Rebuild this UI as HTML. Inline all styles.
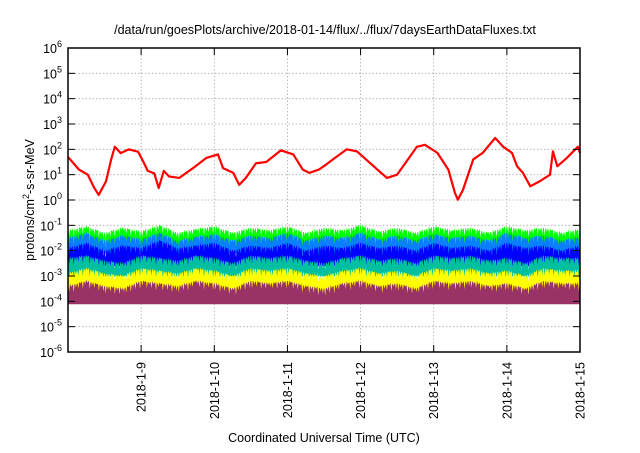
<!DOCTYPE html>
<html><head><meta charset="utf-8"><style>
body{margin:0;background:#fff;width:640px;height:448px;overflow:hidden;font-family:"Liberation Sans",sans-serif}
svg text{font-family:"Liberation Sans",sans-serif;fill:#000}
</style></head><body>
<svg id="chart" width="640" height="448" viewBox="0 0 640 448" xmlns="http://www.w3.org/2000/svg">
<text x="325" y="34" font-size="12.5" text-anchor="middle">/data/run/goesPlots/archive/2018-01-14/flux/../flux/7daysEarthDataFluxes.txt</text>
<text x="324" y="442" font-size="12.5" text-anchor="middle">Coordinated Universal Time (UTC)</text>
<text transform="translate(34,200) rotate(-90)" font-size="12.5" text-anchor="middle">protons/cm<tspan dy="-5" font-size="9">2</tspan><tspan dy="5">-s-sr-MeV</tspan></text>
<g id="grid"></g><g id="series"></g><g id="axes"></g>
</svg>
<script>
const dayLabels=["2018-1-9","2018-1-10","2018-1-11","2018-1-12","2018-1-13","2018-1-14","2018-1-15"];
const yExps=[6,5,4,3,2,1,0,-1,-2,-3,-4,-5,-6];
const redT=[0,.15,.27,.36,.42,.52,.59,.64,.72,.83,.96,1.04,1.09,1.18,1.24,1.31,1.38,1.52,1.71,1.89,2.05,2.12,2.26,2.34,2.43,2.57,2.71,2.91,3.08,3.21,3.30,3.43,3.53,3.62,3.81,3.95,4.13,4.36,4.50,4.63,4.77,4.88,5.05,5.20,5.29,5.33,5.40,5.54,5.67,5.84,5.95,6.07,6.14,6.22,6.32,6.45,6.59,6.63,6.69,6.82,6.97,7.0];
const redV=[1.7,1.2,1.0,0.47,0.2,0.74,1.6,2.1,1.85,2.0,1.9,1.45,1.15,1.05,0.47,1.15,0.93,0.87,1.26,1.66,1.8,1.26,1.07,0.6,0.87,1.45,1.5,1.96,1.8,1.2,1.07,1.2,1.4,1.6,2.0,1.92,1.46,0.87,1.0,1.53,2.1,2.18,1.86,1.2,0.28,0.01,0.4,1.6,1.86,2.45,2.1,1.86,1.33,1.07,0.54,0.74,1.0,1.92,1.33,1.66,2.1,1.86];
const greenUp=[-1.2,-1.05,-1.3,-1.1,-1.25,-1.0,-1.3,-1.15,-1.05,-1.3,-1.1,-1.2,-1.05,-1.3,-1.1,-1.2,-1.0,-1.25,-1.1,-1.3,-1.05,-1.2,-1.1,-1.3,-1.05,-1.2,-1.1,-1.3,-1.15];
const lblueUp=[-1.5,-1.3,-1.6,-1.4,-1.55,-1.3,-1.6,-1.45,-1.35,-1.6,-1.4,-1.5,-1.3,-1.6,-1.4,-1.5,-1.3,-1.55,-1.4,-1.6,-1.35,-1.5,-1.4,-1.6,-1.3,-1.5,-1.4,-1.6,-1.45];
const dblueUp=[-1.9,-1.7,-2.0,-1.8,-1.9,-1.6,-1.9,-1.8,-1.7,-2.0,-1.8,-1.9,-1.7,-2.0,-1.8,-1.9,-1.7,-1.9,-1.8,-2.0,-1.7,-1.9,-1.8,-2.0,-1.7,-1.9,-1.8,-2.0,-1.8];
const tealUp=[-2.3,-2.2,-2.4,-2.5,-2.2,-2.3,-2.4,-2.2,-2.3,-2.5,-2.2,-2.3,-2.2,-2.4,-2.5,-2.3,-2.2,-2.4,-2.3,-2.5,-2.2,-2.3,-2.2,-2.4,-2.3,-2.5,-2.2,-2.3,-2.3];
const yellowUp=[-2.9,-2.7,-2.9,-3.0,-2.7,-2.8,-2.9,-2.7,-2.8,-3.0,-2.7,-2.8,-2.7,-2.9,-3.0,-2.8,-2.7,-2.9,-2.8,-3.0,-2.7,-2.8,-2.7,-2.9,-2.8,-3.0,-2.7,-2.8,-2.8];
const maroonUp=[-3.4,-3.2,-3.4,-3.5,-3.2,-3.3,-3.4,-3.2,-3.3,-3.5,-3.2,-3.3,-3.2,-3.4,-3.5,-3.3,-3.2,-3.4,-3.3,-3.5,-3.2,-3.3,-3.2,-3.4,-3.3,-3.5,-3.2,-3.3,-3.3];
const bandLows=[-2.0,-2.1,-2.6,-3.0,-3.6,-4.1];
const bandNames=["band-green","band-lightblue","band-darkblue","band-teal","band-yellow","band-maroon"];
const bandColors=["#00ff00","#0a7fff","#0000ff","#00c0a0","#ffff00","#993366"];
const NS="http://www.w3.org/2000/svg";
const L=68,R=580,T=48,B=352;
function xs(d){return L+(R-L)*d/7;}
function ys(v){return B-(v+6)*(B-T)/12;}
function mk(tag,attrs,parent){const e=document.createElementNS(NS,tag);for(const k in attrs)e.setAttribute(k,attrs[k]);parent.appendChild(e);return e;}
const grid=document.getElementById('grid'),axes=document.getElementById('axes'),ser=document.getElementById('series');
yExps.forEach(e=>{const y=ys(e);
 if(e<6&&e>-6){const g=mk('line',{x1:L,x2:R,y1:y,y2:y,stroke:'#aaa','stroke-width':0.8,'stroke-dasharray':'1.5,2'},grid);
 
 }
 mk('line',{x1:L,x2:L+7,y1:y,y2:y,stroke:'#000'},axes);mk('line',{x1:R,x2:R-7,y1:y,y2:y,stroke:'#000'},axes);
 const t=mk('text',{x:62,y:y+5,'font-size':12.5,'text-anchor':'end'},axes);
 
 
 t.innerHTML='10<tspan dy="-6" font-size="9">'+e+'</tspan>';});
dayLabels.forEach((lab,i)=>{const x=xs(i+1);
 if(i<6){const g=mk('line',{x1:x,x2:x,y1:T,y2:B,stroke:'#aaa','stroke-width':0.8,'stroke-dasharray':'1.5,2'},grid);
 
 }
 mk('line',{x1:x,x2:x,y1:B,y2:B-7,stroke:'#000'},axes);mk('line',{x1:x,x2:x,y1:T,y2:T+7,stroke:'#000'},axes);
 const t=mk('text',{transform:`translate(${x+4.5},362) rotate(-90)`,'font-size':12.5,'text-anchor':'end'},axes);
 
 
 t.textContent=lab;});
const fr=mk('rect',{x:L,y:T,width:R-L,height:B-T,fill:'none',stroke:'#000','stroke-width':1.5},axes);


const TEETH=8, DEPTH=[0.35,0.1,0.45,0.2,0.3,0.05,0.4,0.15];
[greenUp,lblueUp,dblueUp,tealUp,yellowUp,maroonUp].forEach((up,bi)=>{
 const n=up.length;let pts=[];
 for(let i=0;i<n-1;i++){
  for(let k=0;k<TEETH;k++){const f=k/TEETH;const d=7*(i+f)/(n-1);
   const v=up[i]+(up[i+1]-up[i])*f;
   pts.push(xs(d)+','+ys(v));
   const d2=7*(i+f+0.5/TEETH)/(n-1);
   pts.push(xs(d2)+','+ys(v-DEPTH[(k+i)%TEETH]));}}
 pts.push(xs(7)+','+ys(up[n-1]));
 pts.push(xs(7)+','+ys(bandLows[bi]));pts.push(xs(0)+','+ys(bandLows[bi]));
 const p=mk('polygon',{points:pts.join(' '),fill:bandColors[bi],stroke:bandColors[bi],'stroke-width':0.8},ser);
 
 });
const rp=mk('polyline',{points:redT.map((t,i)=>xs(t)+','+ys(redV[i])).join(' '),fill:'none',stroke:'#ff0000','stroke-width':2.2,'stroke-linejoin':'round'},ser);


</script>
</body></html>
